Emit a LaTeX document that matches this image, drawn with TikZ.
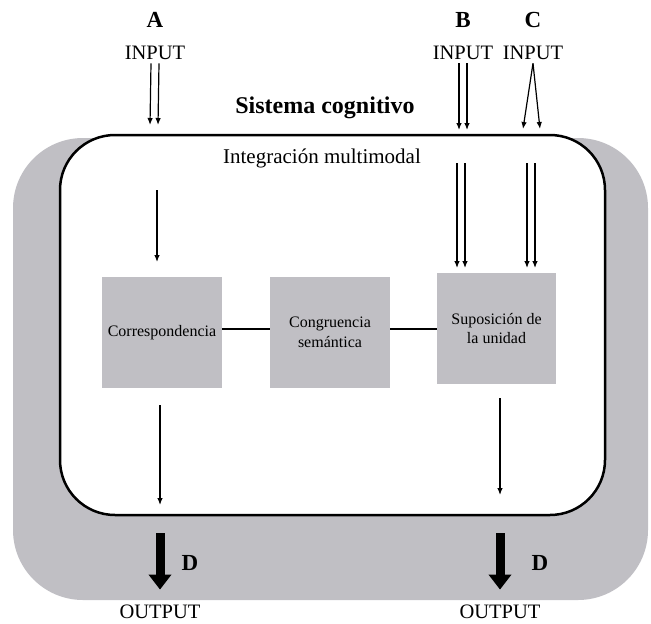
\documentclass[tikz,border=0pt]{standalone}
\usepackage{fontspec}
\setmainfont{Liberation Serif}
\usetikzlibrary{arrows.meta,positioning}
\definecolor{boxgray}{RGB}{192,191,196}
\newcommand\fsz[2]{\fontsize{#1}{#2}\selectfont}
\newcommand\twoarrows[3]{% from, to, half gap
  \draw[ArrSty] ([xshift=-#3]#1) -- ([xshift=-#3]#2);
  \draw[ArrSty] ([xshift=#3]#1) -- ([xshift=#3]#2);
}

\begin{document}
\begin{tikzpicture}[x=1pt,y=-1pt]
		\tikzstyle{ArrSty}=[line width=1.2pt,-{Latex[length=7pt,width=5.5pt]}]
		\tikzstyle{BigSty}=[line width=9pt,-{Triangle[length=15pt,width=22pt]}]
		\tikzstyle{LinkSty}=[line width=2pt]
		\tikzstyle{GrayBox}=[fill=boxgray,minimum width=120pt,minimum height=111pt,
				      align=center,font=\fsz{16}{19.5}]
		\tikzstyle{Lab}=[font=\bfseries\fsz{23}{25}]
		\tikzstyle{Io}=[font=\fsz{20.5}{22}]

\useasboundingbox (0,0) rectangle (651,624);

\fill[boxgray,rounded corners=70pt] (13,138) rectangle (648,600);
\draw[line width=2.5pt,fill=white,rounded corners=55pt] (60,135) rectangle (605,515);

\node[Lab] (labA) at (155,20) {A};
\node[Lab] (labB) at (463,20) {B};
\node[Lab] (labC) at (533,20) {C};
\node[Io,yshift=-33pt] at (labA) (inA) {INPUT};
\node[Io,yshift=-33pt] at (labB) (inB) {INPUT};
\node[Io,yshift=-33pt] at (labC) (inC) {INPUT};

\node[font=\bfseries\fsz{24}{26}] (sistema) at (325,108) {Sistema cognitivo};
\node[font=\fsz{21}{23}] (integ) at (322,158) {Integración multimodal};

\node[GrayBox] (corr) at (162,332.5) {Correspondencia};
\node[GrayBox] (cong) at (330,332.5) {Congruencia\\semántica};
\node[GrayBox,minimum width=119pt] (supo) at (496.5,328.5) {Suposición de\\la unidad};

\draw[LinkSty] (corr.east |- supo.west) -- (cong.west |- supo.west);
\draw[LinkSty] (cong.east |- supo.west) -- (supo.west);

% inputs
\coordinate (A_top) at (154,125);
\coordinate (B_top) at (463,130);
\coordinate (C_top) at (531.5,129);
\twoarrows{inA.south}{A_top}{4pt}
\twoarrows{inB.south}{B_top}{4pt}
\draw[ArrSty] (inC.south) -- ([xshift=-8.5pt]C_top);
\draw[ArrSty] (inC.south) -- ([xshift=8.5pt]C_top);

\coordinate (A_mid) at (157,190);
\coordinate (A_bot) at (157,262);
\draw[ArrSty] (A_mid) -- (A_bot);
\coordinate (B_mid) at (461,163);
\coordinate (B_bot) at (461,268);
\coordinate (C_mid) at (531,163);
\coordinate (C_bot) at (531,268);
\twoarrows{B_mid}{B_bot}{4pt}
\twoarrows{C_mid}{C_bot}{4pt}

% outputs
\coordinate (L_out) at (160,505);
\coordinate (R_out) at (500,495);
\draw[ArrSty,shorten <=17pt] (corr.south -| L_out) -- (L_out);
\draw[ArrSty,shorten <=14pt] (supo.south -| R_out) -- (R_out);

\node[Io] (outL) at (160,612) {OUTPUT};
\node[Io] (outR) at (500,612) {OUTPUT};
\coordinate (L_big) at (160,533);
\coordinate (R_big) at (500,533);
\draw[BigSty,shorten >=12pt] (L_big) -- (outL.north);
\draw[BigSty,shorten >=12pt] (R_big) -- (outR.north);
\node[Lab] (dL) at (190,563) {D};
\node[Lab] (dR) at (540,563) {D};

\end{tikzpicture}
\end{document}
